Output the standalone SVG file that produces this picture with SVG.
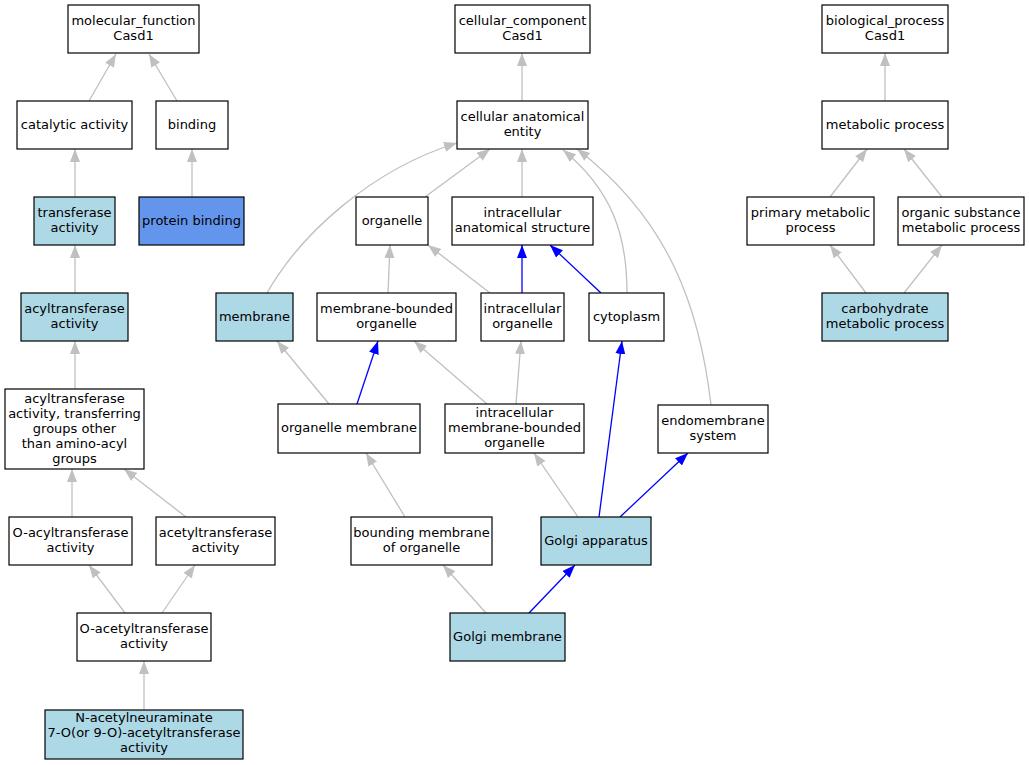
<svg xmlns="http://www.w3.org/2000/svg" width="1029" height="765" viewBox="0 0 1029 765">
<style>
.n rect{fill:#fff;stroke:#000;stroke-width:1.2}
.n.lb rect{fill:#add8e6}
.n.pb rect{fill:#6495ed}
.n text{font-family:"DejaVu Sans",sans-serif;font-size:13px;fill:#000;text-anchor:middle;transform:translateY(-1px)}
.e path{fill:none;stroke-width:1.3}
.e .g{stroke:#c0c0c0;marker-end:url(#ag)}
.e .b{stroke:#0000ff;marker-end:url(#ab)}
</style>
<defs>
<marker id="ag" markerUnits="userSpaceOnUse" markerWidth="14" markerHeight="11" refX="13" refY="5" orient="auto"><path d="M0,0 L13,5 L0,10 z" fill="#c0c0c0"/></marker>
<marker id="ab" markerUnits="userSpaceOnUse" markerWidth="14" markerHeight="11" refX="13" refY="5" orient="auto"><path d="M0,0 L13,5 L0,10 z" fill="#0000ff"/></marker>
</defs>
<rect width="1029" height="765" fill="#fff"/>
<g class="e" id="edges">
<path class="g" d="M89,101 L116,54"/>
<path class="g" d="M177,101 L149,54"/>
<path class="g" d="M75,197 L75,149"/>
<path class="g" d="M192,197 L192,149"/>
<path class="g" d="M75,293 L75,245"/>
<path class="g" d="M75,389 L75,341"/>
<path class="g" d="M72,517 L72,469"/>
<path class="g" d="M186,517 L124,469"/>
<path class="g" d="M125,613 L89,565"/>
<path class="g" d="M162,613 L195,565"/>
<path class="g" d="M144,710 L144,661"/>
<path class="g" d="M522,101 L522,53"/>
<path class="g" d="M267,293 C300,235 370,170 457,143"/>
<path class="g" d="M425,197 L490,149"/>
<path class="g" d="M522,197 L522,149"/>
<path class="g" d="M627,293 C627,235 612,190 563,150"/>
<path class="g" d="M711,405 C700,310 670,220 577,149"/>
<path class="g" d="M388,293 L390,245"/>
<path class="g" d="M490,293 L428,245"/>
<path class="b" d="M522,293 L522,245"/>
<path class="b" d="M601,293 L550,245"/>
<path class="g" d="M329,404 L277,341"/>
<path class="b" d="M357,404 L378,341"/>
<path class="g" d="M487,404 L414,341"/>
<path class="g" d="M516,404 L521,341"/>
<path class="g" d="M405,517 L366,453"/>
<path class="g" d="M578,517 L534,453"/>
<path class="b" d="M599,517 L622,341"/>
<path class="b" d="M620,517 L688,453"/>
<path class="g" d="M486,613 L443,565"/>
<path class="b" d="M529,613 L575,565"/>
<path class="g" d="M885,101 L885,53"/>
<path class="g" d="M830,197 L867,149"/>
<path class="g" d="M942,197 L904,149"/>
<path class="g" d="M866,293 L830,245"/>
<path class="g" d="M904,293 L942,245"/>
</g>
<g class="n" id="mf"><rect x="68" y="5" width="131" height="48"/><text x="133.5" y="25.5">molecular_function</text><text x="133.5" y="40.5">Casd1</text></g>
<g class="n" id="catalytic"><rect x="17" y="101" width="115" height="48"/><text x="74.5" y="129.5">catalytic activity</text></g>
<g class="n" id="binding"><rect x="156" y="101" width="72" height="48"/><text x="192" y="129.5">binding</text></g>
<g class="n lb" id="transferase"><rect x="34" y="197" width="81" height="48"/><text x="74.5" y="217.5">transferase</text><text x="74.5" y="232.5">activity</text></g>
<g class="n pb" id="proteinbinding"><rect x="139" y="197" width="105" height="48"/><text x="191.5" y="225.5">protein binding</text></g>
<g class="n lb" id="acyltransferase"><rect x="21" y="293" width="107" height="48"/><text x="74.5" y="313.5">acyltransferase</text><text x="74.5" y="328.5">activity</text></g>
<g class="n" id="acylother"><rect x="5" y="389" width="139" height="80"/><text x="74.5" y="403.5">acyltransferase</text><text x="74.5" y="418.5">activity, transferring</text><text x="74.5" y="433.5">groups other</text><text x="74.5" y="448.5">than amino-acyl</text><text x="74.5" y="463.5">groups</text></g>
<g class="n" id="oacyl"><rect x="9" y="517" width="123" height="48"/><text x="70.5" y="537.5">O-acyltransferase</text><text x="70.5" y="552.5">activity</text></g>
<g class="n" id="acetyl"><rect x="156" y="517" width="119" height="48"/><text x="215.5" y="537.5">acetyltransferase</text><text x="215.5" y="552.5">activity</text></g>
<g class="n" id="oacetyl"><rect x="77" y="613" width="134" height="48"/><text x="144" y="633.5">O-acetyltransferase</text><text x="144" y="648.5">activity</text></g>
<g class="n lb" id="nacetyl"><rect x="45" y="710" width="198" height="49"/><text x="144" y="723">N-acetylneuraminate</text><text x="144" y="738">7-O(or 9-O)-acetyltransferase</text><text x="144" y="753">activity</text></g>
<g class="n" id="cc"><rect x="455" y="5" width="135" height="48"/><text x="522.5" y="25.5">cellular_component</text><text x="522.5" y="40.5">Casd1</text></g>
<g class="n" id="cae"><rect x="457" y="101" width="131" height="48"/><text x="522.5" y="121.5">cellular anatomical</text><text x="522.5" y="136.5">entity</text></g>
<g class="n" id="organelle"><rect x="356" y="197" width="72" height="48"/><text x="392" y="225.5">organelle</text></g>
<g class="n" id="ias"><rect x="452" y="197" width="141" height="48"/><text x="522.5" y="217.5">intracellular</text><text x="522.5" y="232.5">anatomical structure</text></g>
<g class="n lb" id="membrane"><rect x="216" y="293" width="77" height="48"/><text x="254.5" y="321.5">membrane</text></g>
<g class="n" id="mbo"><rect x="317" y="293" width="139" height="48"/><text x="386.5" y="313.5">membrane-bounded</text><text x="386.5" y="328.5">organelle</text></g>
<g class="n" id="io"><rect x="481" y="293" width="83" height="48"/><text x="522.5" y="313.5">intracellular</text><text x="522.5" y="328.5">organelle</text></g>
<g class="n" id="cytoplasm"><rect x="589" y="293" width="75" height="48"/><text x="626.5" y="321.5">cytoplasm</text></g>
<g class="n" id="om"><rect x="278" y="404" width="142" height="49"/><text x="349" y="433">organelle membrane</text></g>
<g class="n" id="imbo"><rect x="445" y="404" width="139" height="49"/><text x="514.5" y="418">intracellular</text><text x="514.5" y="433">membrane-bounded</text><text x="514.5" y="448">organelle</text></g>
<g class="n" id="endo"><rect x="658" y="405" width="110" height="48"/><text x="713" y="425.5">endomembrane</text><text x="713" y="440.5">system</text></g>
<g class="n" id="bmo"><rect x="351" y="517" width="141" height="48"/><text x="421.5" y="537.5">bounding membrane</text><text x="421.5" y="552.5">of organelle</text></g>
<g class="n lb" id="golgiapp"><rect x="541" y="517" width="110" height="48"/><text x="596" y="545.5">Golgi apparatus</text></g>
<g class="n lb" id="golgimem"><rect x="450" y="613" width="115" height="48"/><text x="507.5" y="641.5">Golgi membrane</text></g>
<g class="n" id="bp"><rect x="822" y="5" width="126" height="48"/><text x="885" y="25.5">biological_process</text><text x="885" y="40.5">Casd1</text></g>
<g class="n" id="metabolic"><rect x="822" y="101" width="126" height="48"/><text x="885" y="129.5">metabolic process</text></g>
<g class="n" id="primary"><rect x="747" y="197" width="127" height="48"/><text x="810.5" y="217.5">primary metabolic</text><text x="810.5" y="232.5">process</text></g>
<g class="n" id="organic"><rect x="898" y="197" width="126" height="48"/><text x="961" y="217.5">organic substance</text><text x="961" y="232.5">metabolic process</text></g>
<g class="n lb" id="carb"><rect x="822" y="293" width="126" height="48"/><text x="885" y="313.5">carbohydrate</text><text x="885" y="328.5">metabolic process</text></g>
</svg>
